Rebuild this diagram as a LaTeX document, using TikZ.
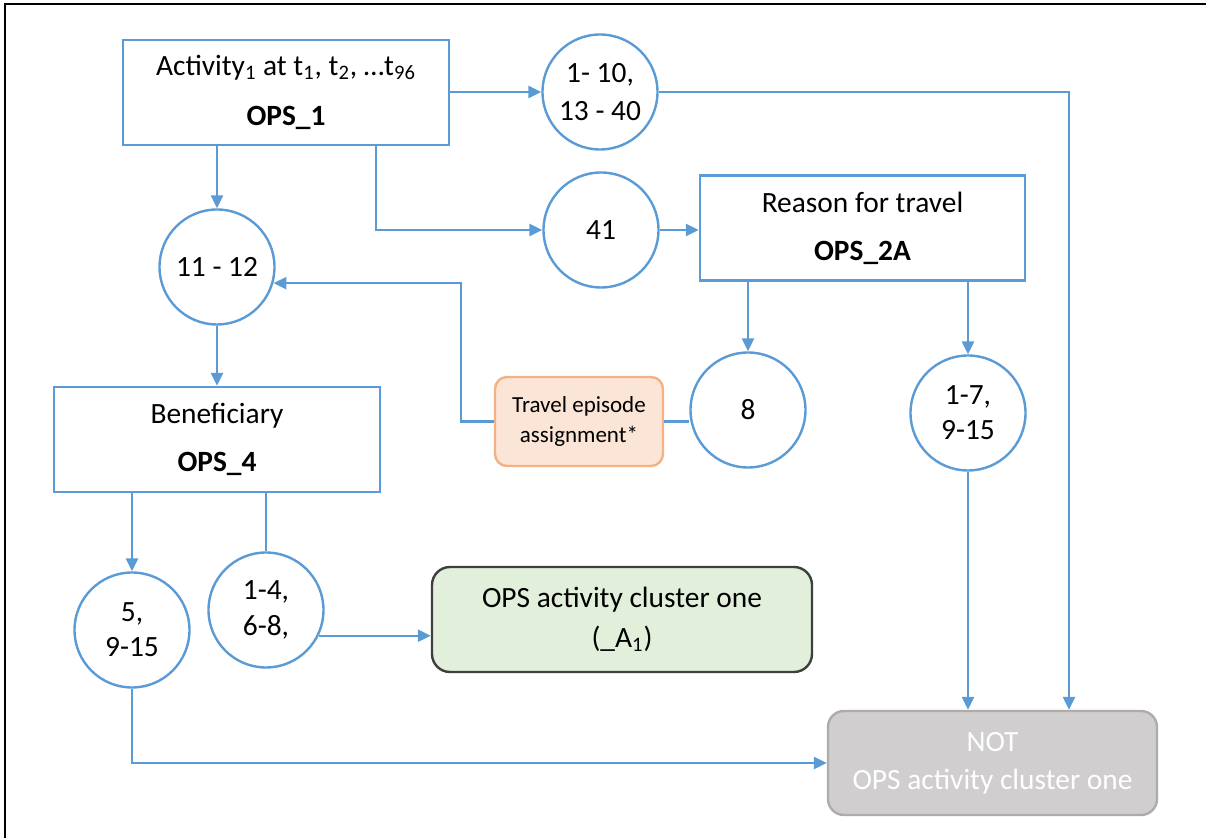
\documentclass[tikz,border=0pt]{standalone}
\usepackage{fontspec}
\setmainfont{Carlito}
\usetikzlibrary{arrows.meta}
\definecolor{flowblue}{HTML}{5B9BD5}
\definecolor{travelfill}{HTML}{FBE5D6}
\definecolor{traveldraw}{HTML}{F4B183}
\definecolor{onefill}{HTML}{E2EFDA}
\definecolor{onedraw}{HTML}{3F3F3F}
\definecolor{notfill}{HTML}{D0CECE}
\definecolor{notdraw}{HTML}{AFABAB}
\begin{document}
\begin{tikzpicture}[x=0.5pt,y=-0.5pt,
    >={Triangle[length=6.5pt,width=6pt]},
    link/.style={draw=flowblue,line width=1.2pt},
    opsbox/.style={draw=flowblue,line width=1.2pt,fill=white,align=center,
      minimum width=163pt,minimum height=52.5pt,inner sep=0pt,
      font=\fontsize{14.7}{17.6}\selectfont},
    codes/.style={circle,draw=flowblue,line width=1.2pt,fill=white,align=center,
      minimum size=57.5pt,inner sep=0pt,font=\fontsize{14.7}{17.6}\selectfont},
    result/.style={rounded corners=9pt,line width=1.2pt,align=center,inner sep=0pt,
      font=\fontsize{14.7}{17.6}\selectfont}]
    \useasboundingbox (0,0) rectangle (1206,838);
    \draw [line width=1.4pt] (5,838) -- (5,4) -- (1206,4);
    % boxes
    \node [opsbox] (ops1) at (286,92.5)
      {Activity\textsubscript{1} at t\textsubscript{1}, t\textsubscript{2}, …t\textsubscript{96}\\[7.4pt]\textbf{OPS\_1}};
    \node [opsbox,minimum width=162.5pt] (ops2a) at (862.5,228)
      {Reason for travel\\[6.4pt]\textbf{OPS\_2A}};
    \node [opsbox] (ops4) at (217,439.5)
      {Beneficiary\\[6.4pt]\textbf{OPS\_4}};
    \node [result,rounded corners=6pt,draw=traveldraw,fill=travelfill,
      minimum width=84pt,minimum height=44.5pt,
      font=\fontsize{11.5}{14}\selectfont] (travel) at (579,421.5)
      {Travel episode\\[1pt]assignment*};
    \node [result,draw=onedraw,fill=onefill,minimum width=190pt,minimum height=52.5pt]
      (one) at (622,619.5) {OPS activity cluster one\\[2.4pt](\_A\textsubscript{1})};
    \node [result,rounded corners=8pt,draw=notdraw,fill=notfill,text=white,
      minimum width=164.5pt,minimum height=52pt] (notone) at (992.5,763)
      {NOT\\[1.4pt]OPS activity cluster one};
    % code circles
    \node [codes] (c110) at (600,92) {1- 10,\\[1pt]13 - 40};
    \node [codes] (c41) at (601,230) {41};
    \node [codes] (c1112) at (217,267) {11 - 12};
    \node [codes] (c8) at (748,410) {8};
    \node [codes] (c17) at (968,413) {1-7,\\[0pt]9-15};
    \node [codes] (c5) at (132,630) {5,\\[0pt]9-15};
    \node [codes] (c14) at (266,610) {1-4,\\[0pt]6-8,};
    % connectors
    \draw [link,->] (ops1.east |- c110) -- (c110);
    \draw [link,->] (c110.east) -| ([xshift=38.25pt]notone.north);
    \draw [link,->] (ops1.south -| c1112) -- (c1112);
    \draw [link,->] ([xshift=45pt]ops1.south) |- (c41);
    \draw [link,->] (c41) -- (c41 -| ops2a.west);
    \draw [link,->] (ops2a.south -| c8) -- (c8);
    \draw [link,->] (ops2a.south -| c17) -- (c17);
    \draw [link] (travel.east) -- (travel.east -| c8.west);
    \draw [link,->] (travel.west) -- ++(-16.5pt,0) |- (c1112.-16);
    \draw [link,->] (c1112) -- (ops4);
    \draw [link,->] (ops4.south -| c5) -- (c5);
    \draw [link] (ops4.south -| c14) -- (c14);
    \draw [link,->] (c14.-26) -- (c14.-26 -| one.west);
    \draw [link,->] (c5) |- (notone);
    \draw [link,->] (c17) -- (c17 |- notone.north);
\end{tikzpicture}
\end{document}
